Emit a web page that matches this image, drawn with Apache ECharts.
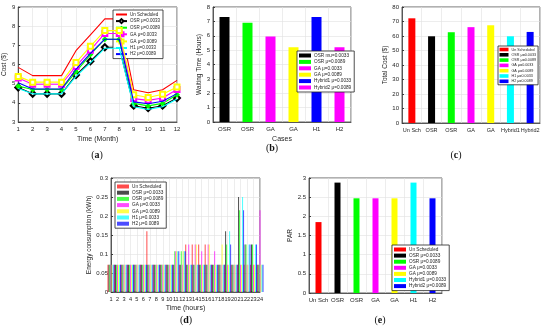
<!DOCTYPE html>
<html><head><meta charset="utf-8">
<script src="https://cdn.jsdelivr.net/npm/echarts@6/dist/echarts.min.js"></script>
<style>html,body{margin:0;padding:0;background:#fff}#c{width:550px;height:334px}</style>
</head><body><div id="c"></div>
<script>
// ---------- (a) monthly cost ----------
const months = ['1','2','3','4','5','6','7','8','9','10','11','12'];
const costUnSch = [5.85,5.42,5.42,5.42,6.72,7.55,8.38,8.38,4.68,4.53,4.68,5.17];
const costOSR1  = [4.80,4.47,4.47,4.47,5.45,6.17,6.90,6.90,3.85,3.72,3.85,4.25];
const costOSR2  = [4.87,4.70,4.70,4.70,5.62,6.52,7.32,7.32,3.97,3.84,3.97,4.42];
const costGA1   = [5.30,4.97,4.97,4.97,5.90,6.75,7.62,7.62,4.22,4.13,4.25,4.70];
const costGA2   = [5.38,5.08,5.08,5.08,6.10,6.95,7.77,7.77,4.42,4.28,4.45,4.83];
const costH1    = [4.75,4.47,4.47,4.47,5.38,6.08,6.85,6.85,3.80,3.65,3.80,4.20];
const costH2    = [5.05,4.72,4.72,4.72,5.75,6.58,7.32,7.32,4.05,3.95,4.08,4.48];
const namesA = ['Un Scheduled','OSR \u03bc=0.0033','OSR \u03bc=0.0089','GA \u03bc=0.0033','GA \u03bc=0.0089','H1 \u03bc=0.0033','H2 \u03bc=0.0089'];

// ---------- (b) waiting time ----------
const casesB = ['OSR','OSR','GA','GA','H1','H2'];
const waitB  = [7.3,6.9,5.95,5.2,7.3,5.2];
const namesB = ['OSR mu=0.0033','OSR \u03bc=0.0089','GA \u03bc=0.0033','GA \u03bc=0.0089','Hybrid1 \u03bc=0.0033','Hybrid2 \u03bc=0.0089'];

// ---------- (c) total cost ----------
const casesC = ['Un Sch','OSR','OSR','GA','GA','Hybrid1','Hybrid2'];
const totalC = [72.2,59.8,62.6,66.1,67.4,59.8,62.8];
const namesC = ['Un Scheduled','OSR \u03bc=0.0033','OSR \u03bc=0.0089','GA \u03bc=0.0033','GA \u03bc=0.0089','H1 \u03bc=0.0033','H2 \u03bc=0.0089'];

// ---------- (d) hourly energy ----------
const hours = [1,2,3,4,5,6,7,8,9,10,11,12,13,14,15,16,17,18,19,20,21,22,23,24];
const eUnSch = [0.072,0.072,0.072,0.072,0.072,0.072,0.16,0.072,0.072,0.072,0.072,0.072,0.125,0.125,0.125,0.125,0.072,0.072,0.072,0.072,0.072,0.072,0.072,0.072];
const eOSR1  = [0.072,0.072,0.072,0.072,0.072,0.072,0.072,0.072,0.072,0.072,0.072,0.072,0.072,0.072,0.072,0.072,0.072,0.072,0.16,0.072,0.25,0.125,0.125,0.072];
const eOSR2  = [0.072,0.072,0.072,0.072,0.072,0.072,0.072,0.072,0.072,0.072,0.107,0.107,0.072,0.072,0.072,0.072,0.072,0.072,0.125,0.072,0.215,0.125,0.125,0.072];
const eGA1   = [0.072,0.072,0.072,0.072,0.072,0.072,0.072,0.072,0.072,0.072,0.107,0.072,0.125,0.125,0.107,0.125,0.107,0.072,0.072,0.072,0.072,0.072,0.072,0.215];
const eGA2   = [0.072,0.072,0.072,0.072,0.072,0.072,0.072,0.072,0.072,0.072,0.107,0.107,0.072,0.125,0.072,0.125,0.072,0.125,0.072,0.072,0.072,0.072,0.072,0.072];
const eH1    = [0.072,0.072,0.072,0.072,0.072,0.072,0.072,0.072,0.072,0.072,0.107,0.107,0.072,0.072,0.072,0.072,0.072,0.072,0.16,0.072,0.25,0.125,0.125,0.072];
const eH2    = [0.072,0.072,0.072,0.072,0.072,0.072,0.072,0.072,0.072,0.072,0.107,0.107,0.072,0.072,0.072,0.072,0.072,0.072,0.125,0.072,0.215,0.125,0.125,0.072];
const namesD = ['Un Scheduled','OSR \u03bc=0.0033','OSR \u03bc=0.0089','GA \u03bc=0.0033','GA \u03bc=0.0089','H1 \u03bc=0.0033','H2 \u03bc=0.0089'];

// ---------- (e) PAR ----------
const casesE = ['Un Sch','OSR','OSR','GA','GA','H1','H2'];
const parE   = [1.85,2.88,2.47,2.47,2.47,2.88,2.47];
const namesE = ['Un Scheduled','OSR \u03bc=0.0033','OSR \u03bc=0.0089','GA \u03bc=0.0033','GA \u03bc=0.0089','Hybrid1 \u03bc=0.0033','Hybrid2 \u03bc=0.0089'];

// colours
const C7 = ['#ff0000','#000000','#00ff00','#ff00ff','#ffff00','#00ffff','#0000ff'];
const C6b = ['#000000','#00ff00','#ff00ff','#ffff00','#0000ff','#ff00ff'];

const TXT = '#262626', GRIDC = '#e0e0e0', FONT = 'Liberation Sans';
function gridBox(left, top, width, height){
  return {left, top, width, height, show:true, borderColor:'#3a3a3a', borderWidth:0.8, backgroundColor:'#fff', containLabel:false};
}
function catX(gi, data, name, fs){
  return {gridIndex:gi, type:'category', data, boundaryGap:true,
    axisTick:{show:false}, axisLine:{lineStyle:{color:'#3a3a3a', width:0.8}},
    axisLabel:{fontSize:fs||6, color:TXT, margin:4, fontFamily:FONT, interval:0},
    splitLine:{show:true, interval:0, lineStyle:{color:GRIDC, width:0.6}},
    name, nameLocation:'middle', nameGap:14, nameTextStyle:{fontSize:7, color:TXT, fontFamily:FONT}};
}
function valY(gi, min, max, interval, name, nameGap){
  return {gridIndex:gi, type:'value', min, max, interval,
    axisLine:{show:true, lineStyle:{color:'#3a3a3a', width:0.8}},
    axisTick:{show:true, inside:true, length:2, lineStyle:{color:'#3a3a3a'}},
    axisLabel:{fontSize:6, color:TXT, margin:3, fontFamily:FONT},
    splitLine:{show:true, lineStyle:{color:GRIDC, width:0.6}},
    name, nameLocation:'middle', nameGap, nameTextStyle:{fontSize:6.5, color:TXT, fontFamily:FONT}};
}
function legendBox(names, prefix, left, top, opts, fs){
  return Object.assign({orient:'vertical', left, top, data:names.map(n=>prefix+'|'+n),
    formatter:n=>n.split('|')[1], itemWidth:12, itemHeight:4, itemGap:1.4,
    padding:[2,3,2,2], borderColor:'#222', borderWidth:0.8, backgroundColor:'#fff',
    selectedMode:false, icon:'rect',
    textStyle:{fontSize:fs||4.7, color:TXT, fontFamily:FONT, padding:[0,0,0,-2]}}, opts||{});
}

const series = [];
// (a) lines
const costSets = [costUnSch,costOSR1,costOSR2,costGA1,costGA2,costH1,costH2];
const symA = ['none','emptyDiamond','diamond','emptyRect','emptyRect','none','none'];
costSets.forEach((arr,i)=>{
  series.push({type:'line', name:'a|'+namesA[i], xAxisIndex:0, yAxisIndex:0, data:arr,
    symbol:symA[i], symbolSize: i<3 ? 6 : 5, showSymbol:symA[i]!=='none',
    lineStyle:{color:C7[i], width:1.1},
    itemStyle:{color:C7[i], borderWidth:1},
    animation:false, z:2+i});
});
// (b) bars, one per case
waitB.forEach((v,i)=>{
  series.push({type:'bar', name:'b|'+namesB[i], xAxisIndex:1, yAxisIndex:1, stack:'b',
    data: waitB.map((w,j)=> j===i ? w : '-'), barWidth:10,
    itemStyle:{color:C6b[i]}, animation:false});
});
// (c)
totalC.forEach((v,i)=>{
  series.push({type:'bar', name:'c|'+namesC[i], xAxisIndex:2, yAxisIndex:2, stack:'c',
    data: totalC.map((w,j)=> j===i ? w : '-'), barWidth:7,
    itemStyle:{color:C7[i]}, animation:false});
});
// (d) grouped bars
const eSets = [eUnSch,eOSR1,eOSR2,eGA1,eGA2,eH1,eH2];
eSets.forEach((arr,i)=>{
  series.push({type:'bar', name:'d|'+namesD[i], xAxisIndex:3, yAxisIndex:3,
    data: hours.map((h,k)=>[h, arr[k]]), barGap:'0%', barCategoryGap:'20%', clip:true,
    itemStyle:{color:C7[i], opacity:0.7}, animation:false});
});
// (e)
parE.forEach((v,i)=>{
  series.push({type:'bar', name:'e|'+namesE[i], xAxisIndex:4, yAxisIndex:4, stack:'e',
    data: parE.map((w,j)=> j===i ? w : '-'), barWidth:6,
    itemStyle:{color:C7[i]}, animation:false});
});

function caption(letter, x, y){
  return {type:'text', x, y, style:{text:'{p|(}{b|'+letter+'}{p|)}', align:'center', verticalAlign:'middle',
    rich:{p:{fontFamily:'Liberation Serif', fontSize:10, fill:'#111'}, b:{fontFamily:'Liberation Serif', fontSize:10, fontWeight:'bold', fill:'#111'}}}};
}

const legA = legendBox(namesA,'a',113,10,{itemWidth:11, itemHeight:5, itemGap:1.1}, 4.5);
delete legA.icon;
legA.data = namesA.map((n,i)=> symA[i]==='none' ? {name:'a|'+n, itemStyle:{opacity:0}} : {name:'a|'+n});

const option = {
  backgroundColor:'#fff',
  animation:false,
  grid:[
    gridBox(15,7,162,115),
    gridBox(213,7,138,115),
    gridBox(402,7,138,116),
    gridBox(111,178,149,114),
    gridBox(309,178,133,115)
  ],
  xAxis:[
    Object.assign(catX(0, months, 'Time (Month)'), {boundaryGap:false}),
    catX(1, casesB, 'Cases'),
    catX(2, casesC, '', 5.5),
    {gridIndex:3, type:'value', min:1, max:24, interval:1,
      axisTick:{show:false}, axisLine:{lineStyle:{color:'#3a3a3a', width:0.8}},
      axisLabel:{fontSize:5.6, color:TXT, margin:4, fontFamily:FONT},
      splitLine:{show:true, lineStyle:{color:GRIDC, width:0.6}},
      name:'Time (hours)', nameLocation:'middle', nameGap:13, nameTextStyle:{fontSize:7, color:TXT, fontFamily:FONT}},
    catX(4, casesE, '')
  ],
  yAxis:[
    valY(0,3,9,1,'Cost ($)',9),
    valY(1,0,8,1,'Waiting Time (Hours)',10),
    valY(2,0,80,10,'Total Cost ($)',13),
    valY(3,0,0.3,0.05,'Energy consumption (kWh)',17),
    valY(4,0,3,0.5,'PAR',15)
  ],
  legend:[
    legA,
    legendBox(namesB,'b',297,51),
    legendBox(namesC,'c',498,46,{itemWidth:9, itemHeight:3.6, itemGap:1.3, padding:[1.5,2,1.5,1.5]}, 3.7),
    legendBox(namesD,'d',115,182,{itemGap:1.2}),
    legendBox(namesE,'e',392,245,{itemGap:1.1})
  ],
  graphic:[
    caption('a',97,155),
    caption('b',272,148),
    caption('c',456,155),
    caption('d',186,320),
    caption('e',380,320)
  ],
  series
};
const chart = echarts.init(document.getElementById('c'), null, {renderer:'canvas'});
chart.setOption(option);
</script></body></html>
